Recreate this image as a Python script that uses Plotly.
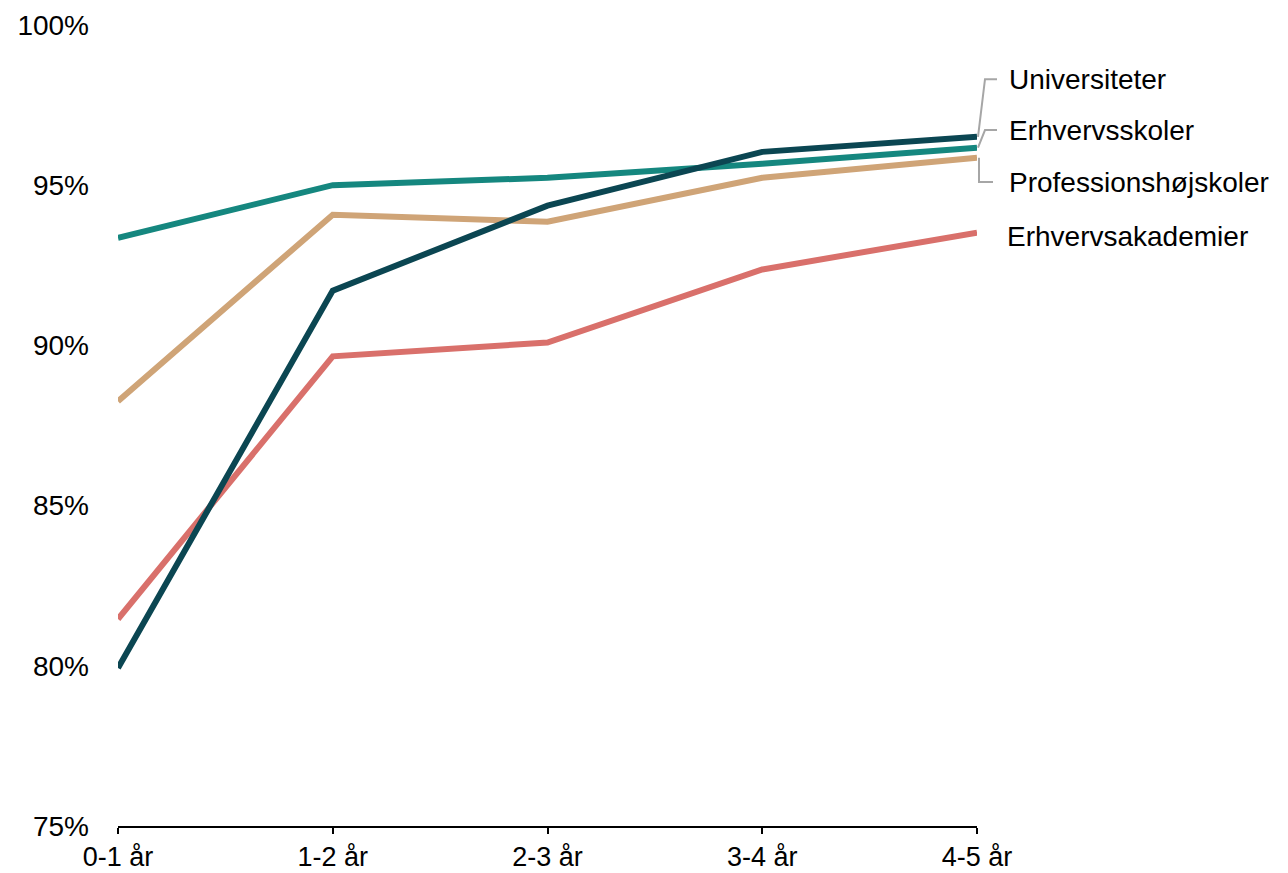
import plotly.graph_objects as go

categories = ["0-1 år", "1-2 år", "2-3 år", "3-4 år", "4-5 år"]
series_names = ["Universiteter", "Erhvervsskoler", "Professionshøjskoler", "Erhvervsakademier"]
universiteter = [79.93, 91.71, 94.36, 96.04, 96.51]
erhvervsskoler = [93.36, 95.0, 95.23, 95.67, 96.17]
professionshojskoler = [88.26, 94.08, 93.86, 95.23, 95.86]
erhvervsakademier = [81.46, 89.66, 90.09, 92.37, 93.52]
y_ticks = [75, 80, 85, 90, 95, 100]
y_tick_labels = ["75%", "80%", "85%", "90%", "95%", "100%"]

colors = ["#0b4652", "#15877f", "#cfa477", "#d9706b"]
values = [universiteter, erhvervsskoler, professionshojskoler, erhvervsakademier]
label_y = [98.31, 96.72, 95.10, 93.41]

W, H = 1280, 865
ML, MR, MT, MB = 110, 311, 17, 47
PW = W - ML - MR
PH = H - MT - MB
Y0, Y1 = y_ticks[0], y_ticks[-1]

x = list(range(len(categories)))
X0, X1 = x[0], x[-1]


def px(v):  # data x -> paper
    return (v - X0) / (X1 - X0)


def py(v):  # data y -> paper
    return (v - Y0) / (Y1 - Y0)


fig = go.Figure()
for i in [3, 2, 1, 0]:
    fig.add_trace(go.Scatter(x=x, y=values[i], mode="lines", name=series_names[i],
                             line=dict(color=colors[i], width=6), showlegend=False,
                             hoverinfo="skip"))

font = dict(family="Liberation Sans, Arial, sans-serif", size=28, color="#000000")
xfont = dict(family="Liberation Sans, Arial, sans-serif", size=27, color="#000000")
dxp = 1.0 / PW
for i in range(3):
    yv = py(values[i][-1])
    ly = py(label_y[i])
    xe = px(X1)
    if i == 2:
        path = f"M {xe + 2*dxp},{yv} L {xe + 2*dxp},{ly} L {xe + 16*dxp},{ly}"
    else:
        path = f"M {xe + 1*dxp},{yv} L {xe + 8*dxp},{ly} L {xe + 20*dxp},{ly}"
    fig.add_shape(type="path", path=path, xref="paper", yref="paper",
                  line=dict(color="#a6a6a6", width=2), layer="above")

for i in range(4):
    fig.add_annotation(x=X1, y=label_y[i], xref="x", yref="y", text=series_names[i],
                       showarrow=False, xanchor="left", yanchor="middle",
                       xshift=30 if i != 3 else 28, font=font)

fig.update_layout(
    width=W, height=H,
    margin=dict(l=ML, r=MR, t=MT, b=MB),
    plot_bgcolor="white", paper_bgcolor="white",
    font=font,
)
fig.update_xaxes(range=[X0, X1], tickvals=x, ticktext=categories, showgrid=False,
                 zeroline=False, showline=True, linecolor="black", linewidth=2,
                 ticks="outside", ticklen=6, tickwidth=2, tickcolor="black",
                 ticklabelstandoff=0, tickfont=xfont, automargin=False)
fig.update_yaxes(range=[Y0, Y1], tickvals=y_ticks, ticktext=y_tick_labels,
                 showgrid=False, zeroline=False, showline=False, ticks="",
                 ticklabelstandoff=28, tickfont=font, automargin=False)

fig.write_html("out.html")
